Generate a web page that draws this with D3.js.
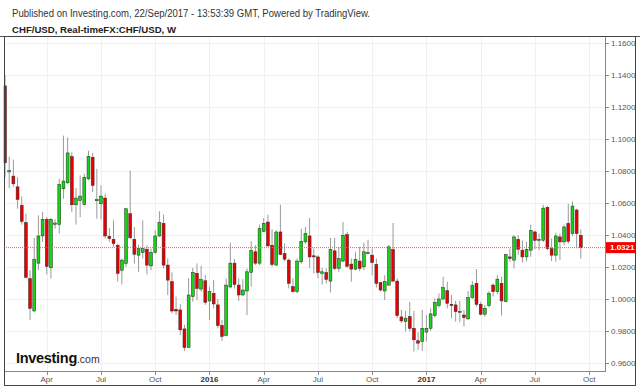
<!DOCTYPE html>
<html>
<head>
<meta charset="utf-8">
<script src="https://cdn.jsdelivr.net/npm/d3@7/dist/d3.min.js"></script>
<style>
html,body{margin:0;padding:0;background:#fff;}
svg{display:block;font-family:"Liberation Sans",Arial,sans-serif;}
</style>
</head>
<body>
<svg id="chart" width="640" height="388"></svg>
<script>
// ---- data (weekly candles, CHF/USD) ----
const firstWeek = "2015-01-26";
const lastWeek = "2017-09-18";
const opens = [1.1332,1.0794,1.0768,1.0701,1.0585,1.0477,1.0127,0.9925,1.0224,1.0394,
1.0498,1.0195,1.0467,1.0465,1.0689,1.0726,1.0890,1.0589,1.0616,1.0591,
1.0751,1.0886,1.0614,1.0595,1.0631,1.0392,1.0373,1.0336,1.0180,1.0222,
1.0533,1.0373,1.0274,1.0290,1.0311,1.0207,1.0290,1.0394,1.0473,1.0212,
1.0108,0.9934,0.9932,0.9813,0.9697,1.0015,1.0160,1.0062,1.0114,0.9988,
1.0035,0.9963,0.9834,0.9772,1.0075,1.0224,1.0087,1.0025,1.0050,1.0166,
1.0295,1.0224,1.0423,1.0481,1.0336,1.0212,1.0419,1.0284,1.0243,1.0077,
1.0046,1.0232,1.0357,1.0394,1.0270,1.0263,1.0160,1.0166,1.0112,1.0301,
1.0191,1.0237,1.0402,1.0218,1.0187,1.0237,1.0201,1.0286,1.0274,1.0216,
1.0102,1.0050,1.0087,1.0309,1.0112,0.9888,0.9859,0.9890,0.9817,0.9739,
0.9734,0.9793,0.9817,0.9896,0.9959,1.0000,1.0052,0.9967,0.9963,0.9919,
0.9900,0.9876,1.0008,1.0098,0.9967,0.9905,0.9959,1.0087,1.0046,1.0098,
0.9983,1.0263,1.0243,1.0373,1.0305,1.0263,1.0305,1.0419,1.0367,1.0367,
1.0573,1.0315,1.0274,1.0388,1.0357,1.0473,1.0409,1.0556,1.0398];
const highs = [1.1400,1.0890,1.0871,1.0761,1.0641,1.0533,1.0180,1.0382,1.0523,1.0544,
1.0512,1.0506,1.0498,1.0751,1.1021,1.1010,1.0917,1.0693,1.0772,1.0782,
1.0927,1.0913,1.0813,1.0710,1.0658,1.0444,1.0492,1.0346,1.0253,1.0568,
1.0803,1.0450,1.0340,1.0492,1.0336,1.0315,1.0429,1.0548,1.0527,1.0253,
1.0166,1.0015,0.9967,0.9838,1.0129,1.0195,1.0222,1.0207,1.0149,1.0077,
1.0118,1.0000,0.9869,1.0129,1.0351,1.0249,1.0129,1.0124,1.0191,1.0361,
1.0336,1.0465,1.0506,1.0527,1.0436,1.0429,1.0589,1.0346,1.0253,1.0129,
1.0253,1.0440,1.0450,1.0506,1.0315,1.0274,1.0195,1.0191,1.0382,1.0382,
1.0326,1.0481,1.0419,1.0253,1.0295,1.0326,1.0351,1.0371,1.0315,1.0253,
1.0108,1.0149,1.0340,1.0475,1.0129,0.9932,0.9925,0.9983,0.9925,0.9793,
0.9932,0.9900,0.9942,1.0004,1.0035,1.0139,1.0108,1.0025,0.9988,0.9988,
0.9932,1.0050,1.0112,1.0187,0.9983,0.9963,1.0050,1.0098,1.0149,1.0139,
1.0284,1.0315,1.0398,1.0398,1.0367,1.0357,1.0465,1.0429,1.0409,1.0589,
1.0581,1.0378,1.0415,1.0409,1.0465,1.0595,1.0610,1.0564,1.0436];
const lows = [1.0761,1.0693,1.0699,1.0564,1.0465,1.0129,0.9869,0.9921,1.0180,1.0357,
1.0154,1.0129,1.0440,1.0409,1.0627,1.0720,1.0544,1.0465,1.0512,1.0585,
1.0741,1.0668,1.0502,1.0498,1.0378,1.0357,1.0326,1.0108,1.0091,1.0201,
1.0378,1.0222,1.0170,1.0253,1.0154,1.0180,1.0284,1.0388,1.0191,1.0025,
0.9911,0.9900,0.9776,0.9676,0.9693,0.9983,0.9993,1.0046,0.9963,0.9869,
0.9942,0.9817,0.9739,0.9766,1.0066,1.0066,0.9988,1.0021,0.9900,1.0077,
1.0212,1.0212,1.0419,1.0326,1.0201,1.0207,1.0274,1.0237,1.0066,1.0042,
1.0035,1.0222,1.0346,1.0195,1.0160,1.0129,1.0091,1.0098,1.0041,1.0180,
1.0170,1.0232,1.0195,1.0108,1.0180,1.0174,1.0180,1.0280,1.0149,1.0071,
1.0046,0.9994,1.0083,1.0108,0.9880,0.9849,0.9797,0.9797,0.9672,0.9683,
0.9676,0.9734,0.9801,0.9884,0.9946,0.9994,0.9942,0.9880,0.9859,0.9855,
0.9828,0.9869,1.0000,0.9952,0.9896,0.9890,0.9946,1.0015,1.0029,0.9896,
0.9979,1.0232,1.0191,1.0274,1.0228,1.0237,1.0263,1.0311,1.0305,1.0357,
1.0305,1.0237,1.0232,1.0243,1.0336,1.0346,1.0394,1.0317,1.0253];
const closes = [1.0851,1.0803,1.0720,1.0622,1.0485,1.0135,0.9942,1.0249,1.0394,1.0498,
1.0203,1.0498,1.0475,1.0716,1.0737,1.0913,1.0589,1.0631,1.0643,1.0761,
1.0892,1.0710,1.0622,1.0643,1.0394,1.0378,1.0346,1.0160,1.0243,1.0564,
1.0382,1.0280,1.0315,1.0315,1.0212,1.0290,1.0394,1.0479,1.0212,1.0118,
0.9925,0.9925,0.9807,0.9697,1.0025,1.0166,1.0066,1.0122,0.9979,1.0046,
0.9969,0.9834,0.9766,1.0087,1.0224,1.0091,1.0025,1.0056,1.0170,1.0305,
1.0224,1.0440,1.0473,1.0332,1.0216,1.0419,1.0278,1.0249,1.0098,1.0046,
1.0237,1.0361,1.0409,1.0263,1.0263,1.0166,1.0170,1.0122,1.0311,1.0191,
1.0253,1.0398,1.0205,1.0187,1.0247,1.0191,1.0295,1.0290,1.0228,1.0098,
1.0056,1.0108,1.0326,1.0112,0.9896,0.9863,0.9880,0.9817,0.9745,0.9724,
0.9817,0.9817,0.9907,0.9979,1.0000,1.0071,0.9973,0.9959,0.9921,0.9923,
0.9884,1.0008,1.0083,0.9967,0.9905,0.9942,1.0035,1.0046,1.0124,0.9988,
1.0278,1.0253,1.0388,1.0311,1.0263,1.0311,1.0429,1.0367,1.0373,1.0568,
1.0315,1.0274,1.0394,1.0357,1.0450,1.0361,1.0581,1.0409,1.0321];
const lastPrice = 1.0321;
const priceTicks = [0.96,0.98,1.00,1.02,1.04,1.06,1.08,1.10,1.12,1.14,1.16];
const timeTickLabels = ["Apr","Jul","Oct","2016","Apr","Jul","Oct","2017","Apr","Jul","Oct"];
const timeTickDates = ["2015-04-01","2015-07-01","2015-10-01","2016-01-01","2016-04-01","2016-07-01","2016-10-01","2017-01-01","2017-04-01","2017-07-01","2017-10-01"];
const headerLine1 = "Published on Investing.com, 22/Sep/2017 - 13:53:39 GMT, Powered by TradingView.";
const headerLine2 = "CHF/USD, Real-timeFX:CHF/USD, W";

// ---- build ----
const parse = d3.utcParse("%Y-%m-%d");
const weeks = d3.utcMonday.range(parse(firstWeek), parse("2017-11-30"));
const bars = opens.map((o,i)=>({i, date: weeks[i], o, h: highs[i], l: lows[i], c: closes[i]}));

const svg = d3.select("#chart");
const L = 4, R = 605, T = 36, B = 372;

const x = d3.scaleLinear().domain([-0.25, 143.8]).range([L, R]);
const y = d3.scaleLinear().domain([0.96, 1.04]).range([363, 235]);

const weekNums = weeks.map(w => +w);
const tickIdx = timeTickDates.map(d => d3.bisectLeft(weekNums, +parse(d)));

// grid
const grid = svg.append("g");
grid.selectAll("line.h").data(priceTicks).join("line")
  .attr("x1", L).attr("x2", R)
  .attr("y1", d => Math.round(y(d))+0.5).attr("y2", d => Math.round(y(d))+0.5)
  .attr("stroke", "#f0f0f0");
grid.selectAll("line.v").data(tickIdx).join("line")
  .attr("y1", T).attr("y2", B)
  .attr("x1", d => Math.round(x(d))+0.5).attr("x2", d => Math.round(x(d))+0.5)
  .attr("stroke", "#f0f0f0");

// header
svg.append("text").attr("x", 12).attr("y", 17).attr("font-size", 10)
  .attr("fill", "#333").attr("textLength", 358).attr("lengthAdjust","spacingAndGlyphs").text(headerLine1);
svg.append("text").attr("x", 12).attr("y", 32.5).attr("font-size", 9.8).attr("font-weight","bold")
  .attr("fill", "#222").attr("textLength", 164).attr("lengthAdjust","spacingAndGlyphs").text(headerLine2);

// logo
const logo = svg.append("text").attr("x", 16).attr("y", 362.5).attr("fill","#111");
logo.append("tspan").attr("font-size", 14.5).attr("font-weight","bold").attr("letter-spacing", -0.3).text("Investing");
logo.append("tspan").attr("font-size", 10.5).attr("fill","#333").text(".com");

// candles
const plot = svg.append("g");
const bw = 2.9;
const up = "#14d414", down = "#e80000";
plot.selectAll("line.wick").data(bars).join("line")
  .attr("x1", d => x(d.i)).attr("x2", d => x(d.i))
  .attr("y1", d => y(d.h)).attr("y2", d => y(d.l))
  .attr("stroke", "#9a9a9a").attr("stroke-width", 1);
plot.selectAll("rect.body").data(bars).join("rect")
  .attr("x", d => Math.max(L, x(d.i) - bw/2))
  .attr("width", d => x(d.i) - bw/2 < L ? bw - (L - (x(d.i)-bw/2)) : bw)
  .attr("y", d => y(Math.max(d.o, d.c)))
  .attr("height", d => Math.max(1, Math.abs(y(d.o) - y(d.c))))
  .attr("fill", d => d.c >= d.o ? up : down)
  .attr("stroke", "#2a2a2a").attr("stroke-width", 0.5);

// last price line
svg.append("line").attr("x1", L).attr("x2", R)
  .attr("y1", y(lastPrice)).attr("y2", y(lastPrice))
  .attr("stroke", "#ff5a5a").attr("stroke-width", 1).attr("stroke-dasharray", "1,1");

// axes lines
svg.append("line").attr("x1", R+0.5).attr("x2", R+0.5).attr("y1", T).attr("y2", B)
  .attr("stroke", "#888");
svg.append("line").attr("x1", L).attr("x2", R+1).attr("y1", B-0.5).attr("y2", B-0.5)
  .attr("stroke", "#888");

// y axis labels
const ya = svg.append("g");
ya.selectAll("line").data(priceTicks).join("line")
  .attr("x1", R+1).attr("x2", R+4)
  .attr("y1", d => Math.round(y(d))+0.5).attr("y2", d => Math.round(y(d))+0.5)
  .attr("stroke", "#888");
ya.selectAll("text").data(priceTicks).join("text")
  .attr("x", R+6).attr("y", d => y(d)).attr("dy", "0.35em")
  .attr("font-size", 8).attr("fill", "#555")
  .text(d => d3.format(".4f")(d));

// last price tag
svg.append("rect").attr("x", R+1).attr("y", y(lastPrice)-5.5).attr("width", 30).attr("height", 11)
  .attr("fill", "#f00000");
svg.append("text").attr("x", R+5).attr("y", y(lastPrice)).attr("dy","0.35em")
  .attr("font-size", 8).attr("font-weight","bold").attr("fill","#fff").text(d3.format(".4f")(lastPrice));

// x axis labels
const xa = svg.append("g");
xa.selectAll("line").data(tickIdx).join("line")
  .attr("x1", d => Math.round(x(d))+0.5).attr("x2", d => Math.round(x(d))+0.5)
  .attr("y1", B).attr("y2", B+3).attr("stroke", "#888");
xa.selectAll("text").data(timeTickLabels).join("text")
  .attr("x", (d,i) => x(tickIdx[i])).attr("y", 382)
  .attr("text-anchor", "middle").attr("font-size", 8)
  .attr("font-weight", d => /^\d+$/.test(d) ? "bold" : "normal")
  .attr("fill", d => /^\d+$/.test(d) ? "#333" : "#555")
  .text(d => d);

// frame
svg.append("line").attr("x1", 0).attr("x2", 640).attr("y1", 36.5).attr("y2", 36.5).attr("stroke", "#555");
svg.append("rect").attr("x", 4.5).attr("y", 36.5).attr("width", 631).attr("height", 349)
  .attr("fill", "none").attr("stroke", "#444");
</script>
</body>
</html>
